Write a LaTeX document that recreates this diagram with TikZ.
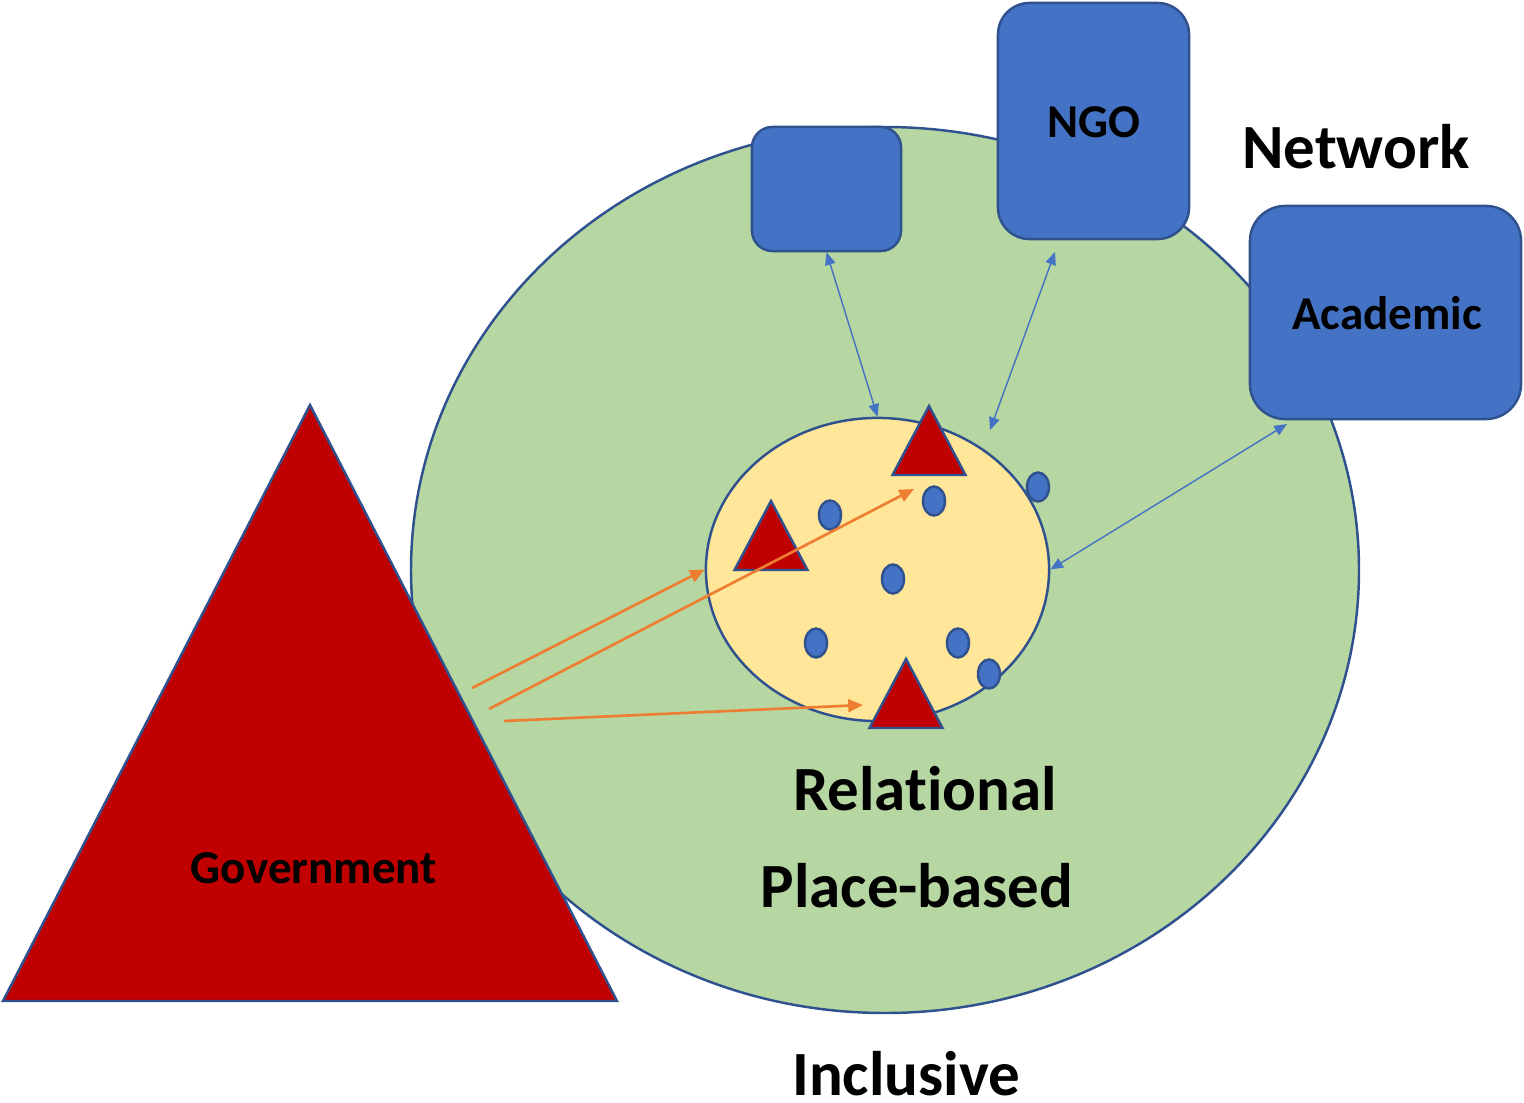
\documentclass[tikz,border=0pt]{standalone}
\usepackage{fontspec}
\setmainfont{Carlito}[Ligatures=NoCommon]
\usepackage{tikz}
\usetikzlibrary{arrows.meta, shapes.geometric}

\definecolor{ringgreen}{RGB}{182,214,162}
\definecolor{coreyellow}{RGB}{255,230,153}
\definecolor{orgblue}{RGB}{68,114,196}
\definecolor{edgeblue}{RGB}{47,82,143}
\definecolor{govred}{RGB}{192,0,0}
\definecolor{flowor}{RGB}{237,125,49}

\begin{document}
\begin{tikzpicture}[x=0.01cm, y=-0.01cm,
    outline/.style={draw=edgeblue, line width=0.7pt},
    org/.style={outline, fill=orgblue, inner sep=0pt, font=\fontsize{13.4}{16}\selectfont\bfseries},
    member/.style={ellipse, outline, fill=orgblue, minimum width=0.22cm, minimum height=0.29cm, inner sep=0pt},
    bigword/.style={anchor=base, inner sep=0pt, font=\fontsize{17.9}{21}\selectfont\bfseries},
    smallword/.style={anchor=base, inner sep=0pt, font=\fontsize{13.4}{16}\selectfont\bfseries},
    link/.style={draw=orgblue, line width=0.4pt, {Triangle[length=3.6pt,width=3pt]}-{Triangle[length=3.6pt,width=3pt]}},
    flow/.style={draw=flowor, line width=0.75pt, -{Triangle[length=4.2pt,width=3.6pt]}}]
  \useasboundingbox (0,0) rectangle (1524,1103);
  % network ring
  \draw[outline, fill=ringgreen] (885,570) ellipse [x radius=474, y radius=443];
  \node[bigword] (inclusive) at (906,1095) {Inclusive};
  \node[bigword] (network) at (1356,168) {Network};
  \node[bigword] (relational) at (925,810) {Relational};
  \node[bigword] (placebased) at (917,907) {Place-based};
  % organisations
  \node[org, rounded corners=5.8pt, minimum width=1.49cm, minimum height=1.24cm] (blank) at (826.5,189) {};
  \node[org, rounded corners=9pt, minimum width=1.91cm, minimum height=2.36cm] (ngo) at (1093.5,121) {};
  \node[smallword] (ngolabel) at (1094,137) {NGO};
  \node[org, rounded corners=10pt, minimum width=2.71cm, minimum height=2.13cm] (academic) at (1385.5,312.5) {};
  \node[smallword] (academiclabel) at (1387,329) {Academic};
  % government
  \draw[outline, fill=govred] (310,405) coordinate (govtop) -- (617,1001) coordinate (govright) -- (3,1001) coordinate (govleft) -- cycle;
  \node[smallword] (govlabel) at (314,883) {Government};
  % local core
  \node[ellipse, outline, fill=coreyellow, minimum width=3.43cm, minimum height=3.03cm, inner sep=0pt] (core) at (877.5,569.5) {};
  \foreach \x/\y in {929/406, 771/501, 906/659}
    \draw[outline, fill=govred] (\x,\y) -- ++(36.5,69) -- ++(-73,0) -- cycle;
  \foreach \x/\y [count=\i] in {830/515, 934/501, 1038/487, 893/579, 816/643, 958/643, 989/674}
    \node[member] (m\i) at (\x,\y) {};
  % flows from government
  \coordinate (g1) at (472,688);
  \coordinate (g2) at (489,709);
  \coordinate (g3) at (504,721);
  \coordinate (toptri) at (914,489);
  \coordinate (bottri) at (863,705);
  \draw[flow] (g1) -- (core.west);
  \draw[flow] (g2) -- (toptri);
  \draw[flow] (g3) -- (bottri);
  % links to the network
  \coordinate (ngofoot) at (1055,252);
  \coordinate (corene) at (990,430);
  \coordinate (acadfoot) at (1287,424);
  \draw[link] (blank.south) -- (core.north);
  \draw[link] (ngofoot) -- (corene);
  \draw[link] (acadfoot) -- (core.east);
\end{tikzpicture}
\end{document}
